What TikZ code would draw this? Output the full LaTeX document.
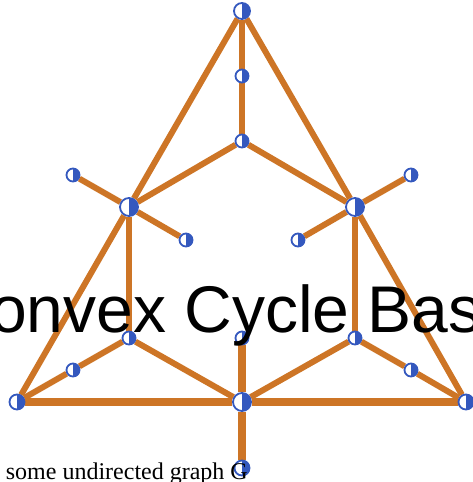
\documentclass[tikz,border=0pt]{standalone}
\usepackage{fontspec}
\setmainfont{Liberation Serif}
\newfontfamily\titlefont{Liberation Sans}
\definecolor{edgeorange}{RGB}{205,117,38}
\definecolor{vertblue}{RGB}{52,88,190}
\pgfdeclarelayer{background}
\pgfsetlayers{background,main}

\begin{document}
\begin{tikzpicture}[x=1pt, y=-1pt,
	vert/.style={circle, draw=vertblue, line width=1.8pt, fill=white, inner sep=0pt, minimum size=#1,
		path picture={\fill[vertblue] (path picture bounding box.north) rectangle (path picture bounding box.south east);}},
	vert/.default=13pt,
	edge/.style={draw=edgeorange, line width=6pt},
	thickedge/.style={draw=edgeorange, line width=8.5pt}]
			\useasboundingbox (0,0) rectangle (472,482);
			% Nodes
			\node[vert=16pt] (top) at (242,11) {};
			\node[vert] (t1) at (242,76) {};
			\node[vert] (t2) at (242,141) {};
			\node[vert=18pt] (left) at (129,207) {};
			\node[vert=18pt] (right) at (355,207) {};
			\node[vert] (leftout) at (73,175) {};
			\node[vert] (leftin) at (186,240) {};
			\node[vert] (rightout) at (411,175) {};
			\node[vert] (rightin) at (298,240) {};
			\node[vert] (leftlow) at (129,338) {};
			\node[vert] (midlow) at (242,338) {};
			\node[vert] (rightlow) at (355,338) {};
			\node[vert] (leftmid) at (73,370) {};
			\node[vert] (rightmid) at (411,370) {};
			\node[vert=15pt] (botleft) at (17,402) {};
			\node[vert=18pt] (botmid) at (242,402) {};
			\node[vert=15pt] (botright) at (466,402) {};
			\node[vert=15pt] (bottom) at (242,468) {};
			% Edges
			\begin{pgfonlayer}{background}
			\draw[edge] (top) -- (left) -- (botleft);
			\draw[edge] (top) -- (right) -- (botright);
			\draw[edge] (top) -- (t1) -- (t2);
			\draw[edge] (t2) -- (left);
			\draw[edge] (t2) -- (right);
			\draw[edge] (left) -- (leftout);
			\draw[edge] (left) -- (leftin);
			\draw[edge] (right) -- (rightout);
			\draw[edge] (right) -- (rightin);
			\draw[edge] (left) -- (leftlow);
			\draw[edge] (right) -- (rightlow);
			\draw[edge] (botleft) -- (leftmid) -- (leftlow) -- (botmid);
			\draw[edge] (botright) -- (rightmid) -- (rightlow) -- (botmid);
			\draw[thickedge] (midlow) -- (botmid);
			\draw[thickedge] (botleft) -- (botmid) -- (botright);
			\draw[thickedge] (botmid) -- (bottom);
			\end{pgfonlayer}
			% Texts
			\node[anchor=base east, inner sep=0pt, font=\fontsize{24}{24}\selectfont] (caption) at (248,479) {some undirected graph G};
			\node[anchor=base, inner sep=0pt, font=\titlefont\fontsize{66}{66}\selectfont] (title) at (236,332) {Convex Cycle Basis};
\end{tikzpicture}
\end{document}
